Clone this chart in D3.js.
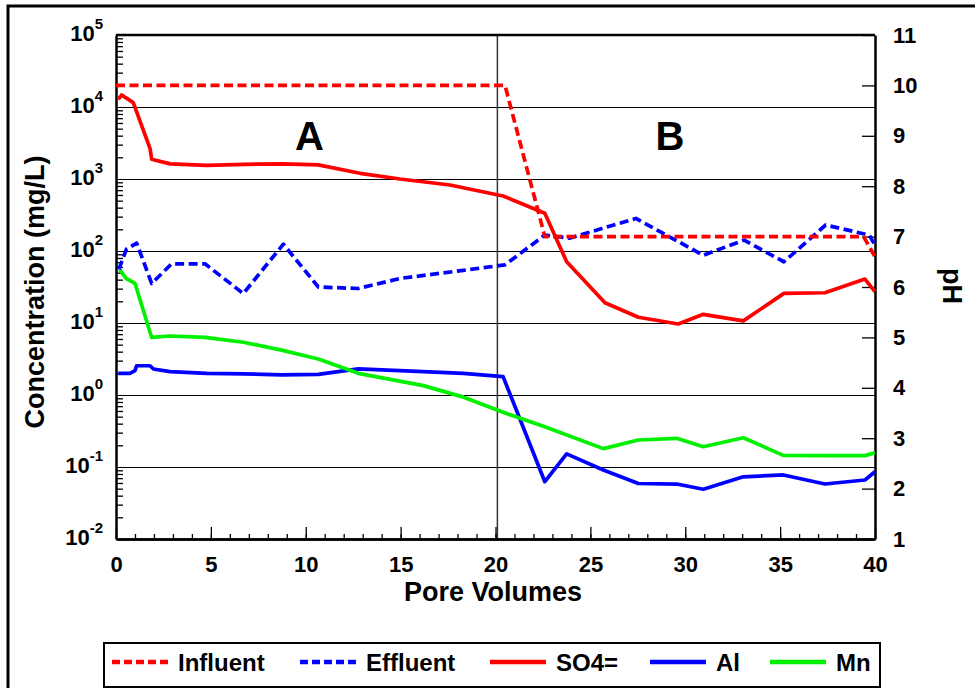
<!DOCTYPE html>
<html>
<head>
<meta charset="utf-8">
<script src="https://cdn.jsdelivr.net/npm/d3@7"></script>
<style>
  html, body { margin: 0; padding: 0; background: #fff; }
  svg { display: block; font-family: "Liberation Sans", Arial, Helvetica, sans-serif; font-weight: bold; }
</style>
</head>
<body>
<svg id="chart" width="975" height="688"></svg>
<script>
// ---- data: pore volumes and measured values ----
const influentPV = [0, 20.5, 22.6, 39.4, 40];
const influentPH = [10, 10, 7, 7, 6.6];

const effluentPV = [0.15, 0.55, 1.09, 1.88, 2.93, 4.69, 6.71, 8.82, 10.66, 12.77, 14.97, 18.3, 20.5, 22.6, 23.9, 27.4, 30.95, 33.1, 35.2, 37.4, 39.7, 40];
const effluentPH = [6.35, 6.75, 6.87, 6.07, 6.46, 6.46, 5.87, 6.85, 6.0, 5.97, 6.17, 6.33, 6.44, 7.03, 6.97, 7.36, 6.63, 6.93, 6.5, 7.23, 7.03, 6.83];

const so4PV = [0.12, 0.3, 0.91, 1.79, 1.88, 2.85, 4.78, 6.8, 8.82, 10.66, 12.86, 14.97, 17.6, 20.4, 22.6, 23.75, 25.77, 27.53, 29.63, 30.95, 33.06, 35.2, 37.36, 39.47, 40];
const so4 = [12800, 14700, 11500, 2670, 1880, 1620, 1550, 1600, 1620, 1570, 1200, 1000, 826, 581, 334, 71, 19.1, 12.0, 9.7, 13.2, 10.7, 25.8, 26.3, 40.8, 27.2];

const alPV = [0.12, 0.74, 1.0, 1.09, 1.79, 1.97, 2.85, 4.78, 6.71, 8.73, 10.66, 12.77, 16.2, 18.3, 20.4, 22.6, 23.75, 25.68, 27.53, 29.55, 30.95, 33.06, 35.17, 37.36, 39.47, 40];
const al = [2.0, 2.0, 2.18, 2.55, 2.55, 2.3, 2.11, 2.0, 1.97, 1.9, 1.93, 2.3, 2.11, 2.0, 1.8, 0.0625, 0.152, 0.091, 0.059, 0.058, 0.049, 0.073, 0.0775, 0.058, 0.066, 0.086];

const mnPV = [0.2, 0.53, 1.0, 1.88, 2.85, 4.69, 6.71, 8.73, 10.66, 12.77, 16.2, 18.22, 20.4, 22.6, 25.68, 27.53, 29.55, 30.95, 33.06, 35.17, 37.36, 39.47, 40];
const mn = [55, 41.7, 35.6, 6.3, 6.6, 6.3, 5.4, 4.2, 3.16, 2.0, 1.35, 0.95, 0.575, 0.363, 0.18, 0.237, 0.25, 0.191, 0.255, 0.145, 0.144, 0.144, 0.158];

const xTicks = [0, 5, 10, 15, 20, 25, 30, 35, 40];
const concExponents = [-2, -1, 0, 1, 2, 3, 4, 5];
const pHTicks = [1, 2, 3, 4, 5, 6, 7, 8, 9, 10, 11];
const phaseBoundaryPV = 20.1;
const phaseLabels = ["A", "B"];
const phaseLabelPV = [10.2, 29.2];

const legendLabels = ["Influent", "Effluent", "SO4=", "Al", "Mn"];

// ---- layout ----
const W = 975, H = 688;
const L = 116, R = 875, T = 35, B = 539;
const RED = "#ff0000", BLUE = "#0000ff", GREEN = "#00f000";

const svg = d3.select("#chart");
svg.append("rect").attr("width", W).attr("height", H).attr("fill", "#fff");

// outer frame
svg.append("rect").attr("x", 8).attr("y", 6).attr("width", 1000).attr("height", 1000)
  .attr("fill", "none").attr("stroke", "#000").attr("stroke-width", 3);

const x = d3.scaleLinear().domain([0, 40]).range([L, R]);
const yC = d3.scaleLog().domain([1e-2, 1e5]).range([B, T]);
const yP = d3.scaleLinear().domain([1, 11]).range([B, T]);

// decade grid lines
const grid = svg.append("g").attr("shape-rendering", "crispEdges");
concExponents.slice(1, -1).forEach(e => {
  const yy = Math.round(yC(Math.pow(10, e))) + 0.5;
  grid.append("line").attr("x1", L).attr("x2", R).attr("y1", yy).attr("y2", yy)
    .attr("stroke", "#000").attr("stroke-width", 1.4);
});

// boundary between phase A and phase B
svg.append("line").attr("x1", x(phaseBoundaryPV)).attr("x2", x(phaseBoundaryPV))
  .attr("y1", T).attr("y2", B).attr("stroke", "#333").attr("stroke-width", 1.5);

// left axis: log minor ticks pointing inward
const minor = [];
for (let e = -2; e < 5; e++) for (let m = 2; m <= 9; m++) minor.push(m * Math.pow(10, e));
const gl = svg.append("g").attr("transform", `translate(${L},0)`)
  .call(d3.axisLeft(yC).tickValues(minor).tickSize(-7).tickSizeOuter(0).tickFormat(""));
gl.select(".domain").attr("stroke-width", 2.5);
gl.selectAll(".tick line").attr("stroke-width", 1.3);

// decade labels as 10 with superscript exponent
const lab = svg.append("g").attr("font-size", 22).attr("text-anchor", "end");
concExponents.forEach(e => {
  const t = lab.append("text").attr("x", 103).attr("y", yC(Math.pow(10, e)) + 6);
  t.append("tspan").text("10");
  t.append("tspan").attr("font-size", 15).attr("dy", -12).text(String(e));
});

// bottom axis
const gb = svg.append("g").attr("transform", `translate(0,${B})`);
gb.call(d3.axisBottom(x).tickValues(d3.range(0, 41, 1)).tickSize(-5).tickSizeOuter(0).tickFormat(""));
gb.append("g").call(d3.axisBottom(x).tickValues(xTicks).tickSize(-12).tickSizeOuter(0).tickPadding(17).tickFormat(d3.format("d")));
gb.selectAll(".domain").attr("stroke-width", 2.5);
gb.selectAll(".tick line").attr("stroke-width", 1.3);
gb.selectAll("text").attr("font-size", 22).attr("font-family", null).attr("font-weight", "bold").attr("fill", "#000");

// right axis (pH)
const gr = svg.append("g").attr("transform", `translate(${R},0)`)
  .call(d3.axisRight(yP).tickValues(pHTicks).tickSize(-13).tickSizeOuter(0).tickPadding(18).tickFormat(d3.format("d")));
gr.select(".domain").attr("stroke-width", 2.5);
gr.selectAll(".tick line").attr("stroke-width", 1.3);
gr.selectAll("text").attr("font-size", 22).attr("font-family", null).attr("font-weight", "bold").attr("fill", "#000");

// top border
svg.append("line").attr("x1", L).attr("x2", R).attr("y1", T).attr("y2", T)
  .attr("stroke", "#000").attr("stroke-width", 2.5);

// axis titles
svg.append("text").attr("transform", "translate(44,292) rotate(-90)")
  .attr("text-anchor", "middle").attr("font-size", 27).text("Concentration (mg/L)");
svg.append("text").attr("x", 493).attr("y", 601)
  .attr("text-anchor", "middle").attr("font-size", 27).text("Pore Volumes");
svg.append("text").attr("transform", "translate(943,286) rotate(90)")
  .attr("text-anchor", "middle").attr("font-size", 27).text("pH");

// phase labels
phaseLabels.forEach((s, i) => {
  svg.append("text").attr("x", x(phaseLabelPV[i])).attr("y", yC(2500))
    .attr("text-anchor", "middle").attr("font-size", 40).text(s);
});

// series
const lineC = d3.line().x(d => x(d[0])).y(d => yC(d[1]));
const lineP = d3.line().x(d => x(d[0])).y(d => yP(d[1]));
const zip = (a, b) => a.map((v, i) => [v, b[i]]);
const plot = svg.append("g").attr("fill", "none").attr("stroke-linejoin", "round");

plot.append("path").attr("d", lineC(zip(so4PV, so4))).attr("stroke", RED).attr("stroke-width", 3.7);
plot.append("path").attr("d", lineC(zip(alPV, al))).attr("stroke", BLUE).attr("stroke-width", 3.7);
plot.append("path").attr("d", lineC(zip(mnPV, mn))).attr("stroke", GREEN).attr("stroke-width", 3.7);
plot.append("path").attr("d", lineP(zip(effluentPV, effluentPH))).attr("stroke", BLUE)
  .attr("stroke-width", 3.7).attr("stroke-dasharray", "9,4.5");
plot.append("path").attr("d", lineP(zip(influentPV, influentPH))).attr("stroke", RED)
  .attr("stroke-width", 3.7).attr("stroke-dasharray", "9,4.5");

// legend
const legendStyle = [
  { color: RED, dash: "8,4" },
  { color: BLUE, dash: "8,4" },
  { color: RED, dash: null },
  { color: BLUE, dash: null },
  { color: GREEN, dash: null }
];
const legendX = [112, 300, 490, 650, 770];
const lg = svg.append("g");
lg.append("rect").attr("x", 104).attr("y", 643).attr("width", 776).attr("height", 44)
  .attr("fill", "#fff").attr("stroke", "#000").attr("stroke-width", 2);
legendLabels.forEach((name, i) => {
  const lx = legendX[i];
  lg.append("line").attr("x1", lx).attr("x2", lx + 56).attr("y1", 662).attr("y2", 662)
    .attr("stroke", legendStyle[i].color).attr("stroke-width", 4.5)
    .attr("stroke-dasharray", legendStyle[i].dash);
  lg.append("text").attr("x", lx + 66).attr("y", 671).attr("font-size", 24).text(name);
});
</script>
</body>
</html>
